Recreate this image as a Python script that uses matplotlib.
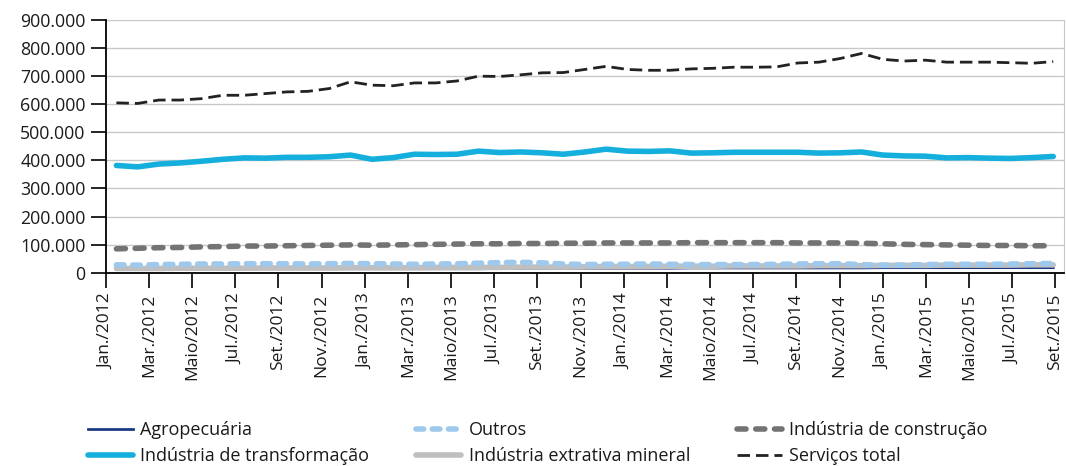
import matplotlib
matplotlib.use("Agg")
import matplotlib.pyplot as plt
import numpy as np
from matplotlib.ticker import FuncFormatter

plt.rcParams['font.family'] = ['Open Sans', 'DejaVu Sans']
plt.rcParams['lines.scale_dashes'] = False

months = ['Jan.', 'Fev.', 'Mar.', 'Abr.', 'Maio', 'Jun.', 'Jul.', 'Ago.', 'Set.', 'Out.', 'Nov.', 'Dez.']
categories = [f"{m}/{y}" for y in (2012, 2013, 2014, 2015) for m in months][:45]
tick_labels = categories[::2]

servicos = [605, 603, 615, 615, 620, 632, 632, 638, 644, 646, 656, 680,
            668, 666, 676, 676, 683, 700, 699, 705, 712, 713, 724, 735,
            724, 721, 721, 726, 728, 732, 732, 733, 747, 750, 763, 781,
            760, 754, 757, 750, 750, 750, 748, 746, 752]
transformacao = [382, 377, 387, 391, 397, 404, 409, 408, 411, 411, 413, 419,
                 404, 410, 422, 421, 422, 433, 428, 430, 427, 422, 430, 440,
                 433, 432, 434, 426, 427, 429, 429, 429, 429, 426, 427, 430,
                 419, 416, 415, 409, 410, 408, 407, 410, 414]
construcao = [85, 87, 89, 90, 92, 93, 95, 95, 96, 97, 98, 99,
              98, 99, 100, 101, 102, 103, 103, 104, 104, 105, 105, 106,
              106, 106, 106, 107, 107, 107, 107, 107, 106, 106, 106, 105,
              103, 101, 100, 99, 98, 97, 97, 96, 96]
outros = [28, 27, 29, 30, 31, 31, 32, 32, 32, 31, 32, 33,
          32, 31, 30, 31, 32, 34, 36, 37, 35, 31, 29, 30,
          30, 31, 30, 29, 29, 29, 29, 30, 31, 32, 32, 29,
          27, 27, 29, 30, 30, 30, 31, 32, 33]
extrativa = [15, 15, 15, 16, 16, 16, 16, 17, 17, 17, 17, 18,
             18, 18, 18, 19, 19, 19, 19, 20, 20, 20, 21, 22,
             22, 22, 23, 23, 23, 24, 24, 24, 24, 25, 25, 25,
             26, 26, 26, 27, 27, 27, 27, 28, 28]
agro = [13, 13, 13, 13, 13, 13, 14, 14, 14, 14, 14, 14,
        14, 14, 14, 14, 14, 14, 15, 15, 15, 16, 16, 16,
        16, 16, 16, 17, 17, 17, 17, 17, 17, 17, 17, 17,
        18, 18, 18, 18, 18, 18, 18, 18, 18]

x = np.arange(len(categories))
k = 1000.0

fig = plt.figure(figsize=(10.66, 4.66), dpi=100)
ax = fig.add_axes([0.0992, 0.4148, 0.8988, 0.5422])

ax.plot(x, np.array(agro) * k, color='#1b3c84', lw=2.0, zorder=2, label='Agropecuária')
ax.plot(x, np.array(extrativa) * k, color='#bfbfbf', lw=4.0, zorder=2.1, label='Indústria extrativa mineral',
        solid_capstyle='round')
ax.plot(x, np.array(transformacao) * k, color='#15afdd', lw=4.0, zorder=2.2, label='Indústria de transformação',
        solid_capstyle='round')
ax.plot(x, np.array(construcao) * k, color='#737373', lw=4.0, zorder=2.3, label='Indústria de construção',
        dashes=(6.5, 7.0), dash_capstyle='round')
ax.plot(x, np.array(outros) * k, color='#9ec8ec', lw=4.0, zorder=2.4, label='Outros',
        dashes=(5.5, 6.2), dash_capstyle='round')
ax.plot(x, np.array(servicos) * k, color='#222222', lw=2.0, zorder=2.5, label='Serviços total',
        dashes=(9.0, 4.3))

ax.set_xlim(-0.5, 44.5)
ax.set_ylim(0, 900000)
ax.set_yticks(np.arange(0, 900001, 100000))
ax.yaxis.set_major_formatter(FuncFormatter(lambda v, p: f"{int(v):,}".replace(',', '.')))
ax.grid(axis='y', color='#c8c8c8', lw=1.0, zorder=0)
ax.set_axisbelow(True)

ticks = np.linspace(-0.5, 44.1, len(tick_labels))
ax.set_xticks(ticks)
ax.set_xticklabels(tick_labels, rotation=90, fontsize=12.5, color='#1a1a1a')
ax.tick_params(axis='y', labelsize=12.8, length=10.5, width=1.2, direction='out', pad=4, labelcolor='#1a1a1a')
ax.tick_params(axis='x', length=11, width=1.2, direction='out', pad=4)

ax.spines['top'].set_visible(False)
ax.spines['right'].set_color('#c8c8c8')
ax.spines['left'].set_linewidth(1.3)
ax.spines['bottom'].set_linewidth(1.3)

h, l = ax.get_legend_handles_labels()
order = ['Agropecuária', 'Indústria de transformação', 'Outros', 'Indústria extrativa mineral',
         'Indústria de construção', 'Serviços total']
hh = [h[l.index(o)] for o in order]
leg = fig.legend(hh, order, loc='upper left', bbox_to_anchor=(0.0826, 0.0955), ncol=3, frameon=False,
                 fontsize=13, handlelength=2.5, handletextpad=0.4, columnspacing=2.6,
                 labelspacing=0.42, borderpad=0, borderaxespad=0)
for t in leg.get_texts():
    t.set_color('#1a1a1a')

fig.savefig('out.png', dpi=100)
